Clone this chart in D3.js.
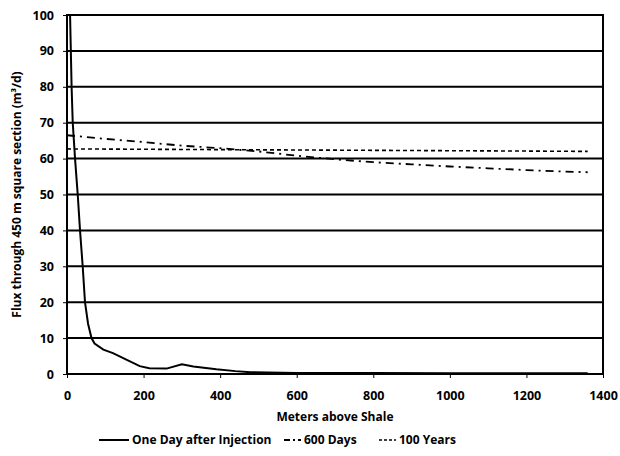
<!DOCTYPE html>
<html><head><meta charset="utf-8">
<script src="https://cdn.jsdelivr.net/npm/d3@7/dist/d3.min.js"></script>
<style>body{margin:0;background:#fff;} text{font-family:"Open Sans","Liberation Sans",sans-serif;}</style>
</head><body><svg id="c" width="620" height="456"></svg>
<script>
const xTicks = [0,200,400,600,800,1000,1200,1400];
const yTicks = [0,10,20,30,40,50,60,70,80,90,100];
const oneDayX = [8,12,15,21,28,34,41,47,55,64,72,95,120,155,190,215,260,300,330,390,440,480,600,800,1000,1200,1360];
const oneDayY = [100,80,70,60,50,40,30,20,14,10,8.5,6.8,5.8,4,2.2,1.6,1.5,2.7,2.1,1.3,0.8,0.5,0.3,0.25,0.2,0.2,0.2];
const days600X = [0,100,200,300,400,500,600,700,800,900,1000,1100,1200,1300,1360];
const days600Y = [66.5,65.5,64.6,63.6,62.9,62,60.8,59.8,59,58.4,57.8,57.3,56.8,56.4,56.2];
const years100X = [0,200,400,600,800,1000,1200,1360];
const years100Y = [62.7,62.6,62.5,62.4,62.3,62.2,62.1,62.0];
const seriesNames = ["One Day after Injection","600 Days","100 Years"];

const svg = d3.select("#c");
const m = {l:67,r:603,t:15,b:374};
const x = d3.scaleLinear().domain([0,1400]).range([m.l,m.r]);
const y = d3.scaleLinear().domain([0,100]).range([m.b,m.t]);

svg.append("g").selectAll("line").data(yTicks).join("line")
  .attr("x1",m.l).attr("x2",m.r).attr("y1",d=>y(d)).attr("y2",d=>y(d))
  .attr("stroke","#000").attr("stroke-width",2);
svg.append("rect").attr("x",m.l).attr("y",m.t).attr("width",m.r-m.l).attr("height",m.b-m.t)
  .attr("fill","none").attr("stroke","#000").attr("stroke-width",2);

const yAxis = svg.append("g").attr("transform",`translate(${m.l},0)`)
  .call(d3.axisLeft(y).tickValues(yTicks).tickSize(4).tickPadding(9).tickFormat(d3.format("d")));
yAxis.select(".domain").remove();
yAxis.selectAll("text").attr("font-size",12.5).attr("font-weight","bold").attr("fill","#000");
const xAxis = svg.append("g").attr("transform",`translate(0,${m.b})`)
  .call(d3.axisBottom(x).tickValues(xTicks).tickSize(4).tickPadding(13).tickFormat(d3.format("d")));
xAxis.select(".domain").remove();
xAxis.selectAll("text").attr("font-size",12.5).attr("font-weight","bold").attr("fill","#000");

const line = d3.line().x(d=>x(d[0])).y(d=>y(d[1]));
svg.append("clipPath").attr("id","pc").append("rect")
  .attr("x",m.l).attr("y",m.t).attr("width",m.r-m.l).attr("height",m.b-m.t);
const g = svg.append("g").attr("clip-path","url(#pc)");
g.append("path").datum(days600X.map((v,i)=>[v,days600Y[i]])).attr("d",line)
  .attr("fill","none").attr("stroke","#000").attr("stroke-width",1.8).attr("stroke-dasharray","8,5,2,5");
g.append("path").datum(years100X.map((v,i)=>[v,years100Y[i]])).attr("d",line)
  .attr("fill","none").attr("stroke","#000").attr("stroke-width",1.6).attr("stroke-dasharray","4,3");
g.append("path").datum(oneDayX.map((v,i)=>[v,oneDayY[i]])).attr("d",line)
  .attr("fill","none").attr("stroke","#000").attr("stroke-width",2);

svg.append("text").attr("x",(m.l+m.r)/2).attr("y",421).attr("text-anchor","middle")
  .attr("font-size",12).attr("font-weight","bold").text("Meters above Shale");
svg.append("text").attr("transform",`translate(21,${(m.t+m.b)/2}) rotate(-90)`).attr("text-anchor","middle")
  .attr("font-size",12).attr("font-weight","bold").text("Flux through 450 m square section (m³/d)");

const leg = [
  {x:99, w:30, dash:null, sw:2},
  {x:284, w:17, dash:"6,3,2,3", sw:1.8},
  {x:379, w:17, dash:"3,2", sw:1.6}
];
leg.forEach((l,i)=>{
  svg.append("line").attr("x1",l.x).attr("x2",l.x+l.w).attr("y1",440).attr("y2",440)
    .attr("stroke","#000").attr("stroke-width",l.sw).attr("stroke-dasharray",l.dash);
  svg.append("text").attr("x",l.x+l.w+3).attr("y",444).attr("font-size",12).attr("font-weight","bold")
    .text(seriesNames[i]);
});
</script></body></html>
